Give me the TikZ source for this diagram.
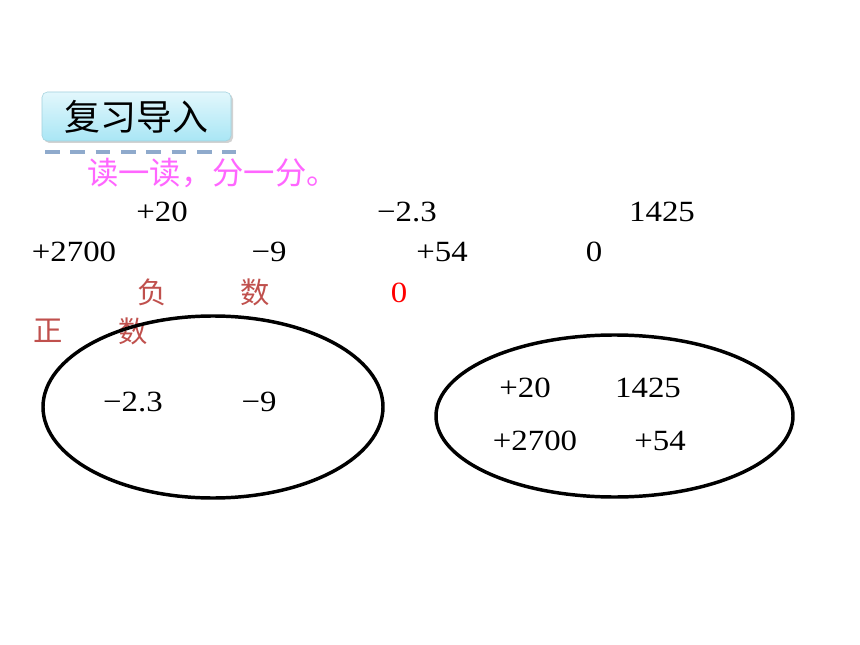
\documentclass[tikz,border=0pt]{standalone}
\usepackage{fontspec}
\setmainfont{Liberation Serif}
\newfontfamily\numfont[FakeStretch=1.12]{Liberation Serif}
\newfontfamily\cjk{Noto Sans CJK SC}
\usetikzlibrary{shapes.geometric,shadows}
\definecolor{titlecyan}{HTML}{A9E6F5}
\definecolor{titletop}{HTML}{E2F7FC}
\definecolor{dashblue}{HTML}{8FAACC}
\definecolor{taskpink}{HTML}{FF66FF}
\definecolor{wordred}{HTML}{C0504D}

\begin{document}
\begin{tikzpicture}[x=0.75pt,y=-0.75pt,every node/.style={inner sep=0pt,font=\numfont\fontsize{22}{26}\selectfont},
  numtext/.style={anchor=center},
  wordtext/.style={text=wordred,font=\cjk\fontsize{22}{26}\selectfont},
  setring/.style={draw,ellipse,line width=2.6pt}]
\useasboundingbox (0,0) rectangle (860,645);
\fill[white] (0,0) rectangle (860,645);
% title tab
\node[rounded corners=4pt,top color=titletop,bottom color=titlecyan,draw=titlecyan!80!gray,
  drop shadow={shadow xshift=1.5pt,shadow yshift=-1.5pt,opacity=0.35},
  minimum width=141.75pt,minimum height=36.75pt] (title) at (136.5,116.5) {};
\node[font=\cjk\fontsize{27}{30}\selectfont] (titletext) at (title.center) {复习导入};
\coordinate (dashL) at (45,152);
\coordinate (dashR) at (236,152);
\draw[dashblue,line width=3pt,dash pattern=on 11pt off 8pt] (dashL) -- (dashR);
\node[text=taskpink,font=\cjk\fontsize{23.5}{28}\selectfont,anchor=west] (task) at (87,173) {读一读，分一分。};
% numbers to sort
\node[numtext] (a) at (162,212) {+20};
\node[numtext] (b) at (407,212) {−2.3};
\node[numtext] (c) at (662,212) {1425};
\node[numtext] (d) at (74,252) {+2700};
\node[numtext] (e) at (269,252) {−9};
\node[numtext] (f) at (442,252) {+54};
\node[numtext] (g) at (594,252) {0};
% labels
\node[wordtext] (neg1) at (152,292) {负};
\node[wordtext] (neg2) at (255,292) {数};
\node[numtext,text=red] (zero) at (399,293) {0};
\node[wordtext] (pos1) at (48,331) {正};
\node[wordtext] (pos2) at (133,331) {数};
% the two sets
\node[setring,minimum width=255pt,minimum height=136.5pt] (negset) at (213,407) {};
\node[setring,minimum width=267.75pt,minimum height=121.5pt] (posset) at (614.5,416) {};
\node[numtext] (n1) at (133,402) {−2.3};
\node[numtext] (n2) at (259,402) {−9};
\node[numtext] (p1) at (525,388) {+20};
\node[numtext] (p2) at (648,388) {1425};
\node[numtext] (p3) at (535,441) {+2700};
\node[numtext] (p4) at (660,441) {+54};
\end{tikzpicture}
\end{document}
